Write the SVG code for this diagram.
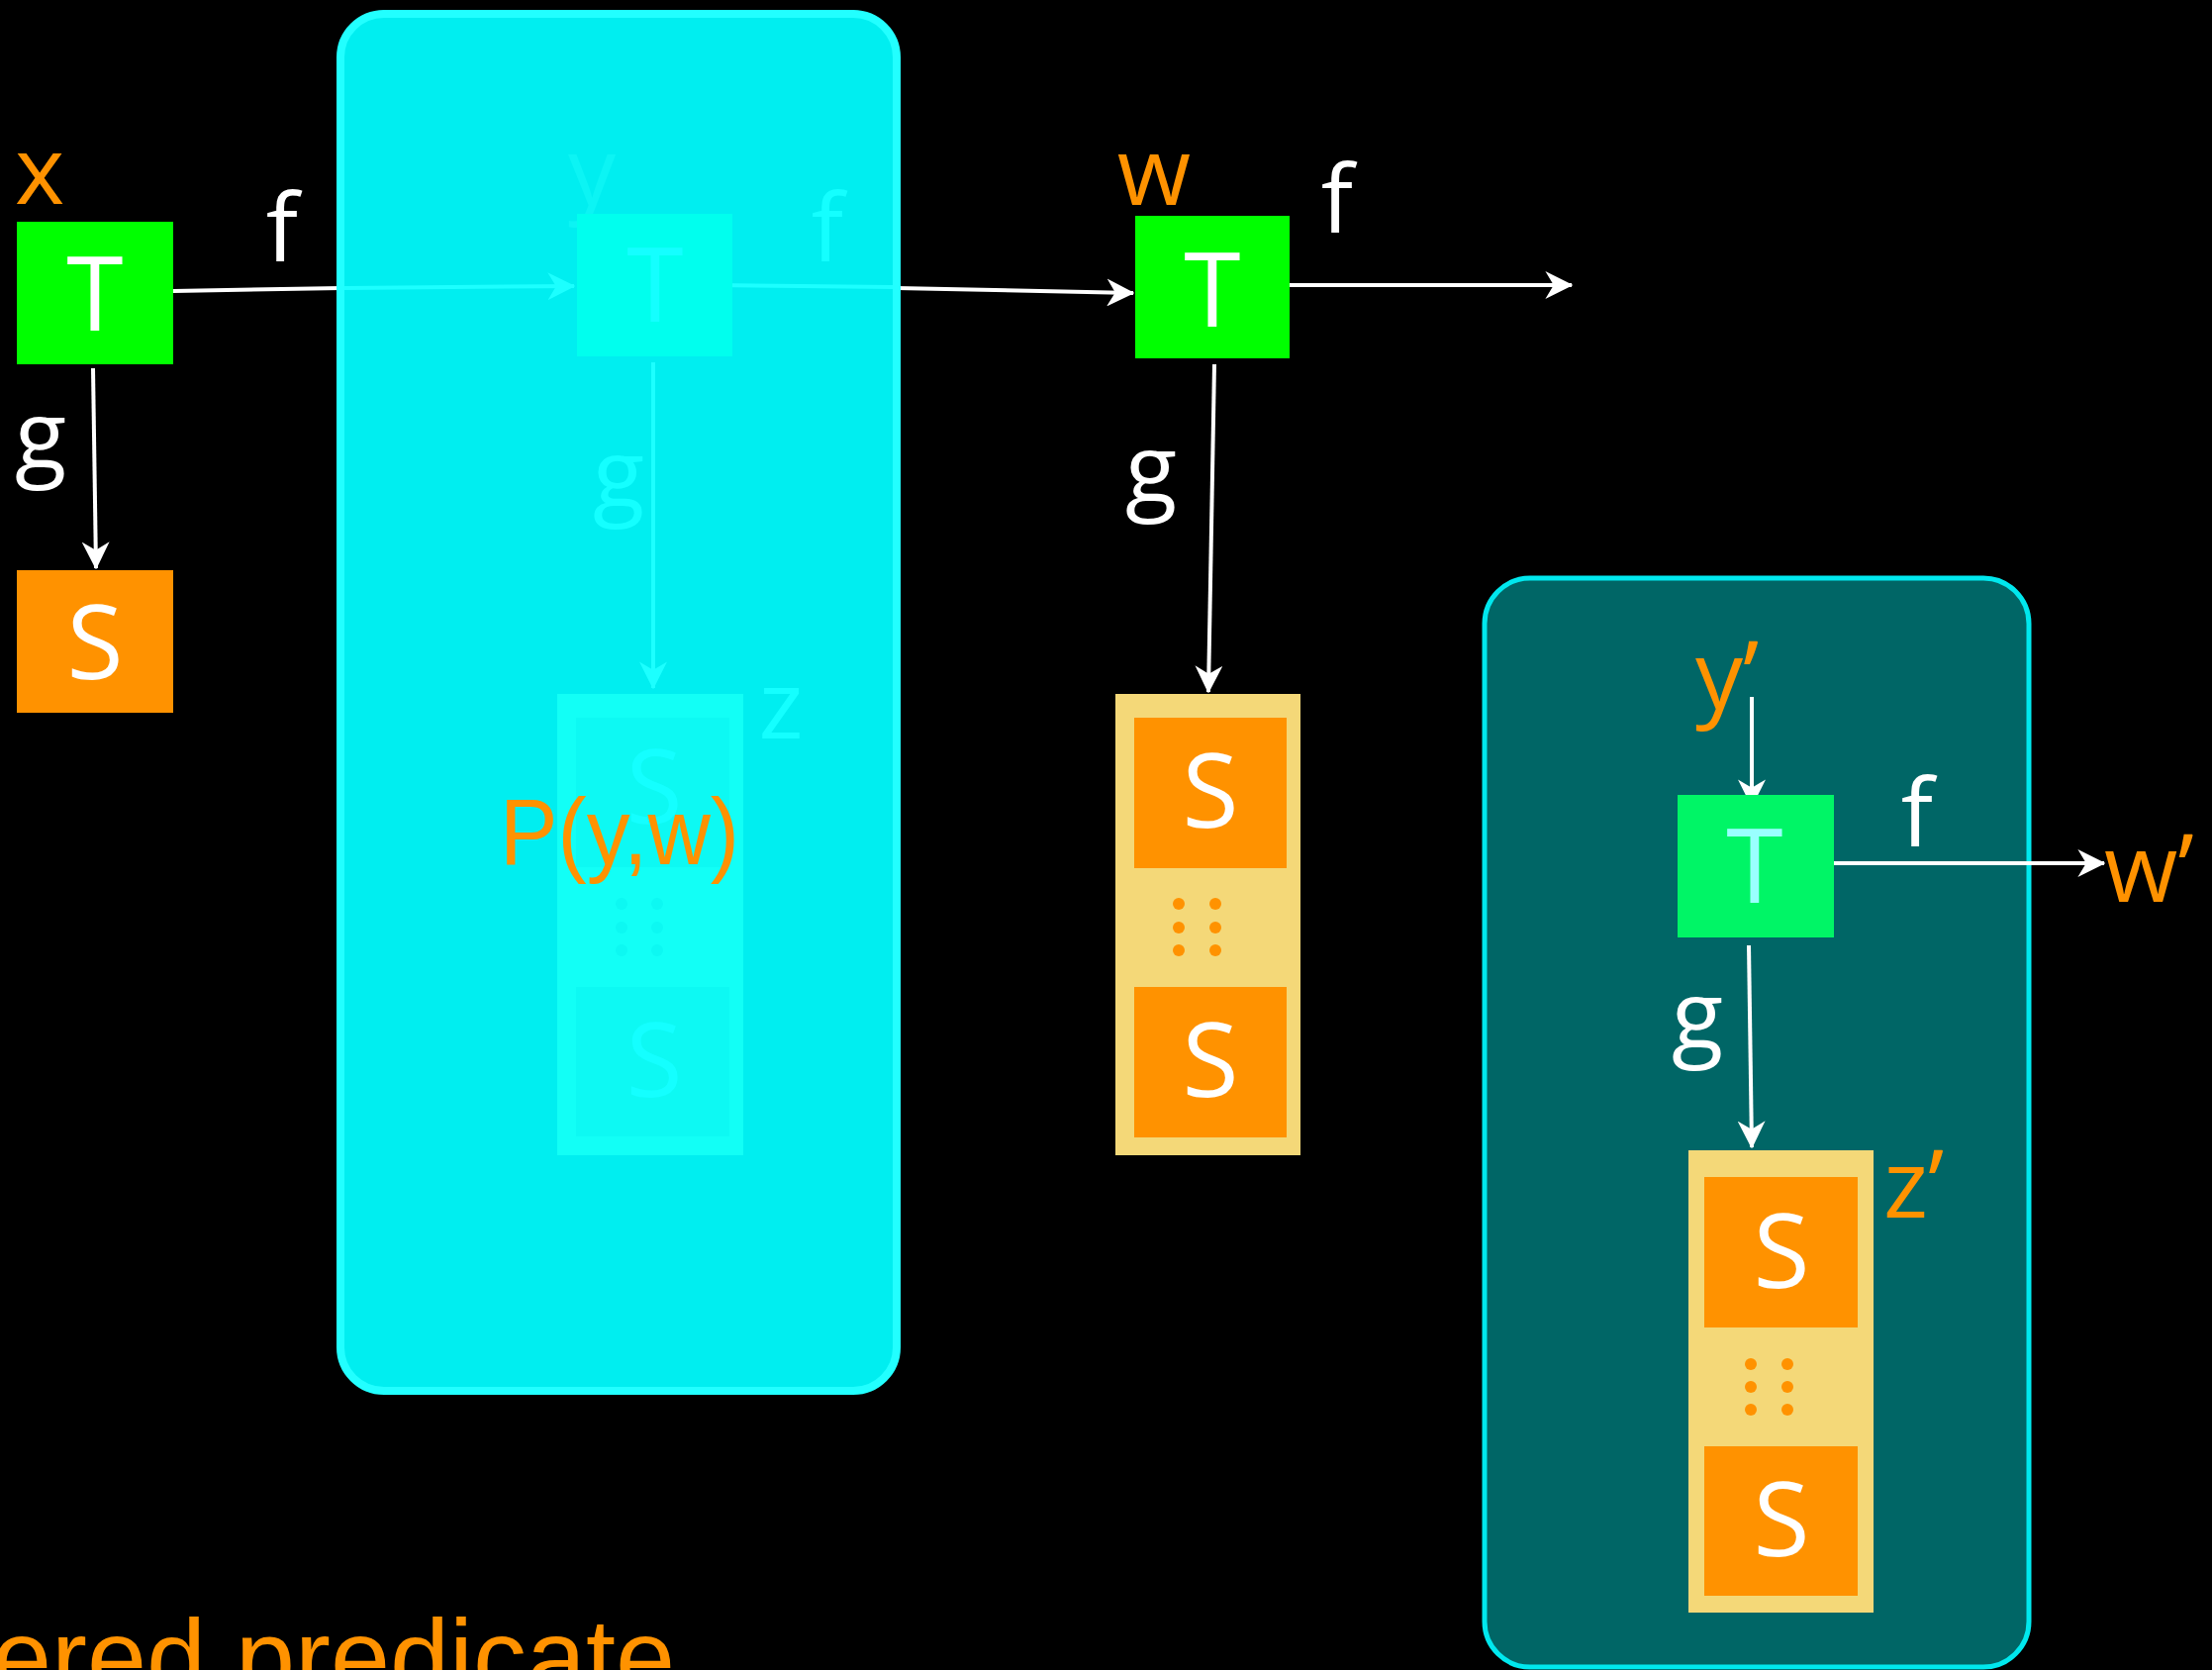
<svg xmlns="http://www.w3.org/2000/svg" width="2235" height="1687" viewBox="0 0 2235 1687">
<style>
.lbl{font-family:"Open Sans","DejaVu Sans",sans-serif;font-size:96px}
.big{font-family:"Open Sans","DejaVu Sans",sans-serif;font-size:104px;text-anchor:middle}
.w{fill:#FFFFFF}
.o{fill:#FF9200}
.gh{fill:#14FFFF}
.ln{stroke:#FFFFFF;stroke-width:4;fill:none}
.gln{stroke:#1CFFFF;stroke-width:4;fill:none}
.comic{font-family:"Liberation Sans","DejaVu Sans",sans-serif;fill:#FF9200}
</style>
<defs>
<marker id="ah" viewBox="0 0 10 10" refX="9.5" refY="5" markerWidth="7" markerHeight="7" markerUnits="strokeWidth" orient="auto">
<path d="M0,0 L10,5 L0,10 L3,5 z" fill="#FFFFFF"/>
</marker>
<marker id="gah" viewBox="0 0 10 10" refX="9.5" refY="5" markerWidth="7" markerHeight="7" markerUnits="strokeWidth" orient="auto">
<path d="M0,0 L10,5 L0,10 L3,5 z" fill="#1CFFFF"/>
</marker>
</defs>
<rect width="2235" height="1687" fill="#000000"/>

<g id="connectors">
<line class="ln" x1="175" y1="294" x2="345" y2="291"/>
<line class="ln" x1="906" y1="291" x2="1145" y2="296" marker-end="url(#ah)"/>
<line class="ln" x1="94" y1="372" x2="97" y2="574" marker-end="url(#ah)"/>
<line class="ln" x1="1303" y1="288" x2="1588" y2="288" marker-end="url(#ah)"/>
<line class="ln" x1="1227" y1="368" x2="1221" y2="699" marker-end="url(#ah)"/>
</g>

<g id="node-x">
<text class="lbl o" x="40" y="206" text-anchor="middle">x</text>
<rect x="17" y="224" width="158" height="144" fill="#00FF00"/>
<text class="big w" x="96" y="334">T</text>
<text class="lbl w" x="285" y="264" text-anchor="middle">f</text>
<text class="lbl w" x="41" y="473" text-anchor="middle">g</text>
</g>

<g id="node-s">
<rect x="17" y="576" width="158" height="144" fill="#FF9200"/>
<text class="big w" x="96" y="686">S</text>
</g>

<g id="panel-p">
<rect x="344" y="14" width="562" height="1391" rx="44" fill="#00EEF0" stroke="#22FFFF" stroke-width="8"/>
<line class="gln" x1="348" y1="291" x2="580" y2="289" marker-end="url(#gah)"/>
<line class="gln" x1="724" y1="288" x2="902" y2="290"/>
<line class="gln" x1="660" y1="366" x2="660" y2="695" marker-end="url(#gah)"/>
<text class="lbl" x="598" y="207" text-anchor="middle" fill="#0CF4F4">y</text>
<rect x="583" y="216" width="157" height="144" fill="#00FFEE"/>
<text class="big gh" x="662" y="325">T</text>
<text class="lbl gh" x="836" y="264" text-anchor="middle">f</text>
<text class="lbl gh" x="625" y="512" text-anchor="middle">g</text>
<text class="lbl gh" x="789" y="746" text-anchor="middle">z</text>
<rect x="563" y="701" width="188" height="466" fill="#12FFF6"/>
<rect x="582" y="725" width="155" height="151" fill="#0DF9F3"/>
<rect x="582" y="997" width="155" height="151" fill="#0DF9F3"/>
<text class="big gh" x="661" y="832">S</text>
<text class="big gh" x="661" y="1108">S</text>
<g fill="#0DF8F2">
<circle cx="628" cy="913" r="6"/><circle cx="664" cy="913" r="6"/>
<circle cx="628" cy="937" r="6"/><circle cx="664" cy="937" r="6"/>
<circle cx="628" cy="960" r="6"/><circle cx="664" cy="960" r="6"/>
</g>
<text class="comic" x="505" y="873" font-size="94" textLength="242" lengthAdjust="spacingAndGlyphs">P(y,w)</text>
</g>

<g id="node-w">
<text class="lbl o" x="1166" y="207" text-anchor="middle">w</text>
<rect x="1147" y="218" width="156" height="144" fill="#00FF00"/>
<text class="big w" x="1225" y="330">T</text>
<text class="lbl w" x="1351" y="235" text-anchor="middle">f</text>
<text class="lbl w" x="1163" y="507" text-anchor="middle">g</text>
</g>

<g id="node-z">
<rect x="1127" y="701" width="187" height="466" fill="#F4D878"/>
<rect x="1146" y="725" width="154" height="152" fill="#FF9200"/>
<rect x="1146" y="997" width="154" height="152" fill="#FF9200"/>
<text class="big w" x="1223" y="836">S</text>
<text class="big w" x="1223" y="1108">S</text>
<g fill="#FF9200">
<circle cx="1191" cy="913" r="6"/><circle cx="1228" cy="913" r="6"/>
<circle cx="1191" cy="937" r="6"/><circle cx="1228" cy="937" r="6"/>
<circle cx="1191" cy="960" r="6"/><circle cx="1228" cy="960" r="6"/>
</g>
</g>

<g id="panel-right">
<rect x="1500" y="584" width="550" height="1100" rx="46" fill="#006666" stroke="#00E8EE" stroke-width="5"/>
<line class="ln" x1="1770" y1="704" x2="1770" y2="814" marker-end="url(#ah)"/>
<line class="ln" x1="1851" y1="872" x2="2126" y2="872" marker-end="url(#ah)"/>
<line class="ln" x1="1767" y1="955" x2="1770" y2="1159" marker-end="url(#ah)"/>
<text class="lbl o" x="1713" y="716">y’</text>
<rect x="1695" y="803" width="158" height="144" fill="#00F566"/>
<text class="big" x="1773" y="912" fill="#99FFFF">T</text>
<text class="lbl w" x="1937" y="855" text-anchor="middle">f</text>
<text class="lbl o" x="2126" y="911">w’</text>
<text class="lbl w" x="1715" y="1059" text-anchor="middle">g</text>
<g id="node-z2">
<rect x="1706" y="1162" width="187" height="467" fill="#F4D878"/>
<rect x="1722" y="1189" width="155" height="152" fill="#FF9200"/>
<rect x="1722" y="1461" width="155" height="151" fill="#FF9200"/>
<text class="big w" x="1800" y="1301">S</text>
<text class="big w" x="1800" y="1572">S</text>
<g fill="#FF9200">
<circle cx="1769" cy="1378" r="6"/><circle cx="1806" cy="1378" r="6"/>
<circle cx="1769" cy="1401" r="6"/><circle cx="1806" cy="1401" r="6"/>
<circle cx="1769" cy="1424" r="6"/><circle cx="1806" cy="1424" r="6"/>
</g>
<text class="lbl o" x="1903" y="1230">z’</text>
</g>
</g>

<text class="comic" x="-8" y="1712" font-size="110" textLength="690" lengthAdjust="spacingAndGlyphs">ered predicate</text>
</svg>
